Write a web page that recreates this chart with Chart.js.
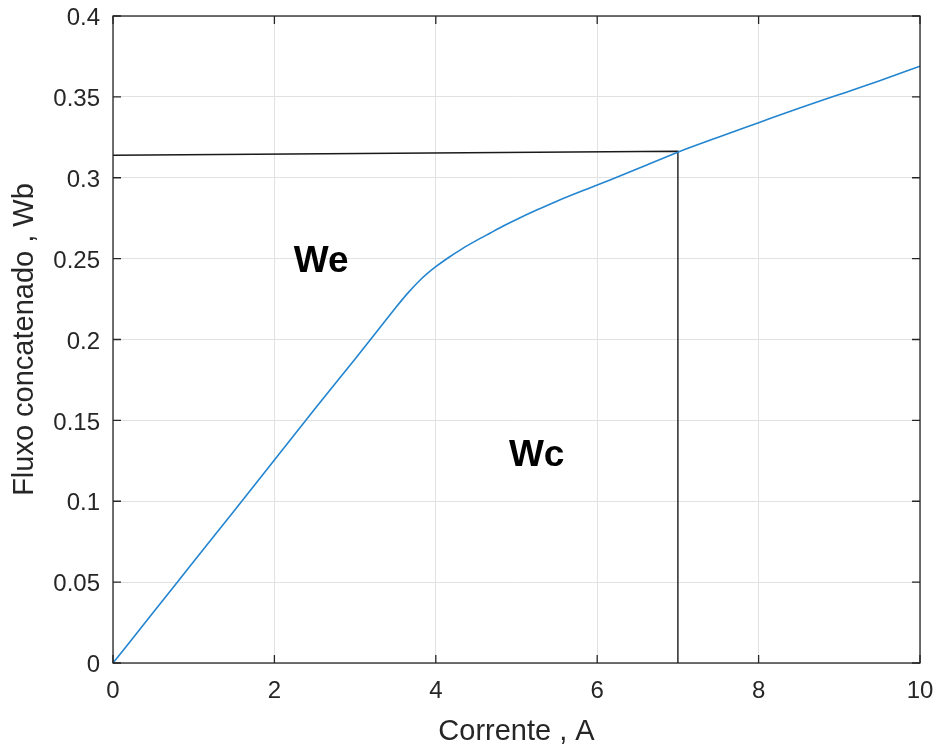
<!DOCTYPE html>
<html>
<head>
<meta charset="utf-8">
<script src="https://cdn.jsdelivr.net/npm/chart.js@4/dist/chart.umd.min.js"></script>
<style>
  body { margin: 0; background: #fff; }
  canvas { display: block; }
</style>
</head>
<body>
<canvas id="chart" width="936" height="748"></canvas>
<script>
// magnetization curve
const current = [0, 0.5, 1, 1.5, 2, 2.5, 3, 3.25, 3.5, 3.65, 3.8, 3.9, 4, 4.15, 4.33, 4.5, 4.67, 4.83, 5, 5.25, 5.5, 6, 6.5, 7, 7.5, 8, 8.5, 9, 9.5, 10];
const flux = [0, 0.0313, 0.0627, 0.094, 0.1255, 0.157, 0.188, 0.2037, 0.2195, 0.2285, 0.2365, 0.241, 0.245, 0.2504, 0.2562, 0.2611, 0.2657, 0.27, 0.2742, 0.28, 0.2855, 0.2955, 0.3055, 0.3158, 0.325, 0.334, 0.343, 0.3515, 0.360, 0.369];

// operating point guide lines
const guideX = [0, 7, 7];
const guideY = [0.3139, 0.3164, 0];

const xTicks = [0, 2, 4, 6, 8, 10];
const yTicks = [0, 0.05, 0.1, 0.15, 0.2, 0.25, 0.3, 0.35, 0.4];

const labels = ["We", "Wc"];
const labelX = [2.58, 5.25];
const labelY = [0.2483, 0.128];

const ink = "#262626";

const framePlugin = {
  id: "frame",
  afterDatasetsDraw(chart) {
    const { ctx, chartArea: a, scales } = chart;
    ctx.save();
    // text labels
    ctx.fillStyle = "#000";
    ctx.font = "bold 37px 'Liberation Sans', Arial, sans-serif";
    ctx.textAlign = "center";
    ctx.textBaseline = "middle";
    labels.forEach((t, i) => {
      ctx.fillText(t, scales.x.getPixelForValue(labelX[i]), scales.y.getPixelForValue(labelY[i]));
    });
    // box + inward ticks
    ctx.strokeStyle = ink;
    ctx.lineWidth = 1.3;
    ctx.strokeRect(a.left, a.top, a.right - a.left, a.bottom - a.top);
    ctx.beginPath();
    xTicks.forEach(v => {
      const px = scales.x.getPixelForValue(v);
      ctx.moveTo(px, a.bottom); ctx.lineTo(px, a.bottom - 8);
      ctx.moveTo(px, a.top); ctx.lineTo(px, a.top + 8);
    });
    yTicks.forEach(v => {
      const py = scales.y.getPixelForValue(v);
      ctx.moveTo(a.left, py); ctx.lineTo(a.left + 8, py);
      ctx.moveTo(a.right, py); ctx.lineTo(a.right - 8, py);
    });
    ctx.stroke();
    ctx.restore();
  }
};

const tickFont = { family: "'Liberation Sans', Arial, sans-serif", size: 24, lineHeight: 1.2 };
const titleFont = { family: "'Liberation Sans', Arial, sans-serif", size: 29, lineHeight: 1 };

new Chart(document.getElementById("chart"), {
  type: "scatter",
  data: {
    datasets: [
      {
        data: current.map((x, i) => ({ x, y: flux[i] })),
        showLine: true,
        borderColor: "#2385d0",
        borderWidth: 1.6,
        pointRadius: 0,
        cubicInterpolationMode: "monotone"
      },
      {
        data: guideX.map((x, i) => ({ x, y: guideY[i] })),
        showLine: true,
        borderColor: "#1a1a1a",
        borderWidth: 1.4,
        pointRadius: 0
      }
    ]
  },
  options: {
    responsive: false,
    animation: false,
    layout: { padding: { top: 16, right: 16, left: 0, bottom: 0 } },
    plugins: { legend: { display: false }, tooltip: { enabled: false } },
    scales: {
      x: {
        type: "linear",
        min: 0, max: 10,
        afterBuildTicks: s => { s.ticks = xTicks.map(v => ({ value: v })); },
        afterFit: s => { s.height = 85; s.paddingLeft = 0; s.paddingRight = 0; },
        grid: { color: "#e2e2e2", drawTicks: false },
        border: { display: false },
        ticks: { color: ink, font: tickFont, padding: 14, maxRotation: 0 },
        title: { display: true, text: "Corrente , A", color: ink, font: titleFont, padding: { top: 0, bottom: 1.5 } }
      },
      y: {
        type: "linear",
        min: 0, max: 0.4,
        afterBuildTicks: s => { s.ticks = yTicks.map(v => ({ value: v })); },
        afterFit: s => { s.width = 113; s.paddingTop = 0; s.paddingBottom = 0; },
        grid: { color: "#e2e2e2", drawTicks: false },
        border: { display: false },
        ticks: {
          color: ink, font: tickFont, padding: 13, labelOffset: 2.5,
          callback: v => String(Number(v.toFixed(2)))
        },
        title: { display: true, text: "Fluxo concatenado , Wb", color: ink, font: titleFont, padding: { top: 10.5, bottom: 0 } }
      }
    }
  },
  plugins: [framePlugin]
});
</script>
</body>
</html>
